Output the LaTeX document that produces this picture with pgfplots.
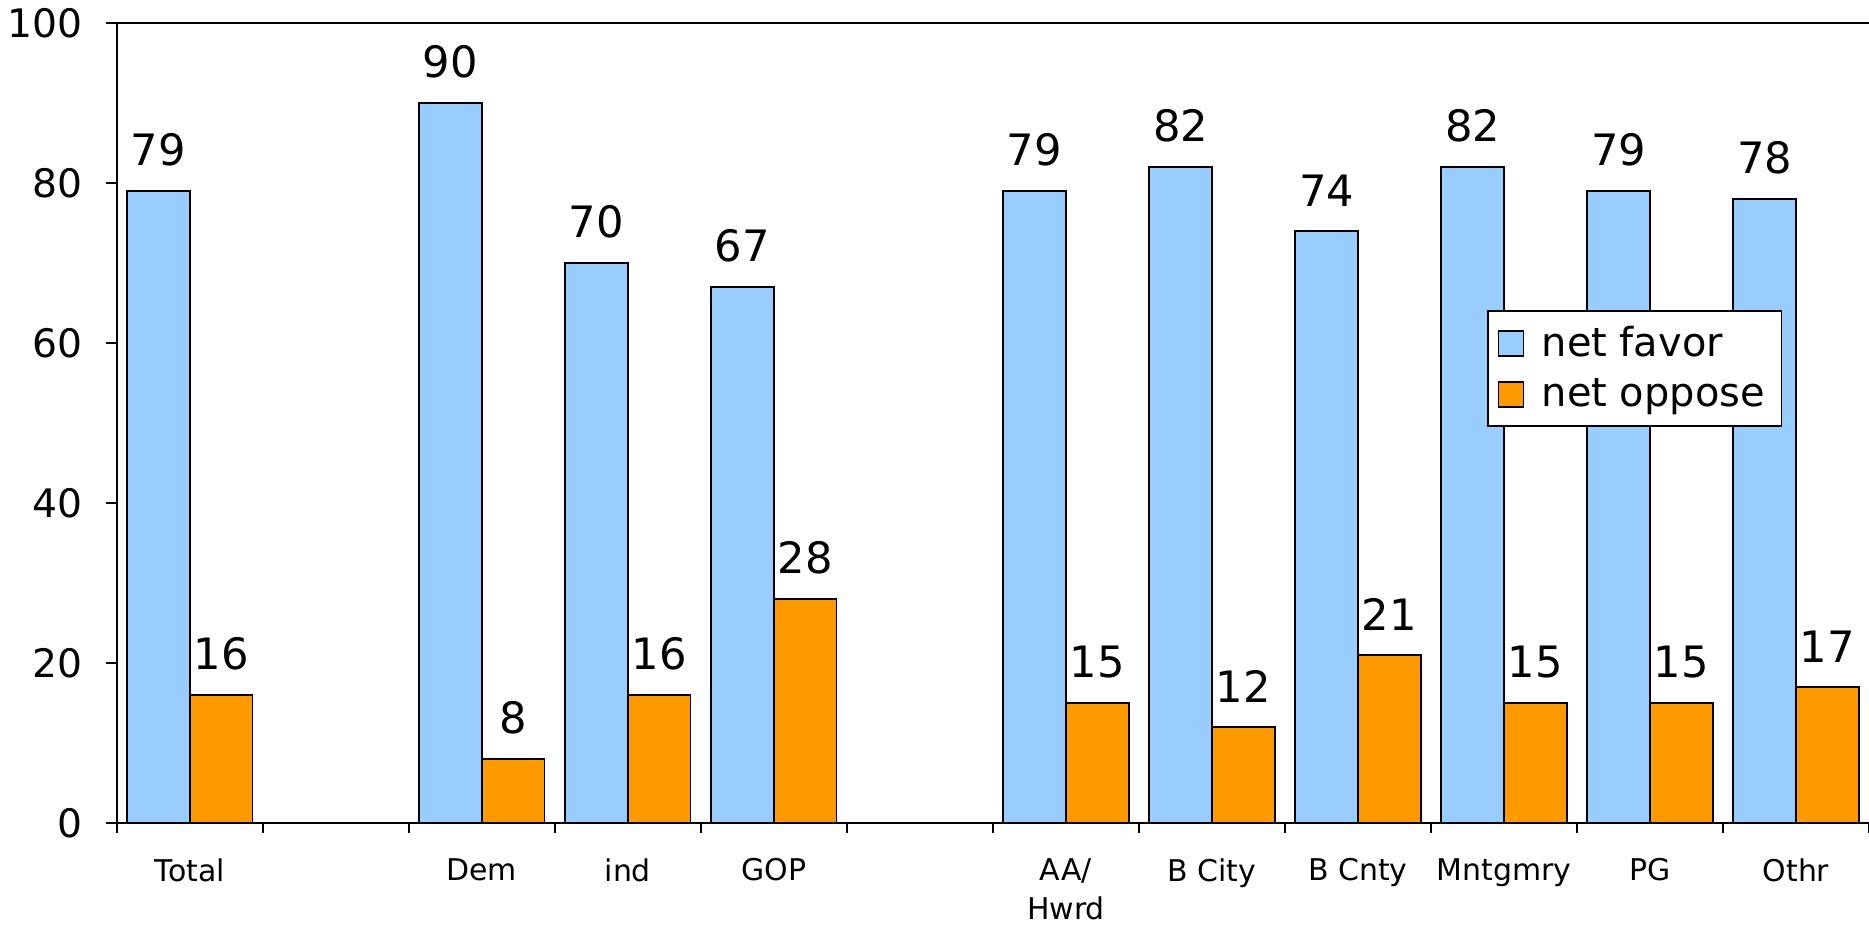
\documentclass[border=0pt]{standalone}
\usepackage{fontspec}
\setmainfont{DejaVu Sans}
\usepackage{pgfplots}
\usepackage{pgfplotstable}
\pgfplotsset{compat=1.18}
\definecolor{favblue}{HTML}{99CCFF}
\definecolor{opporange}{HTML}{FF9900}
\pgfplotstableread{
x fav opp
0 79 16
2 90 8
3 70 16
4 67 28
6 79 15
7 82 12
8 74 21
9 82 15
10 79 15
11 78 17
}\datatable
\pgfplotsset{sqlegend/.style={legend image code/.code={\draw[##1, draw=black, line width=0.5pt] (0pt,-3.75pt) rectangle (7.5pt,3.75pt); \path[draw=none, fill=none] (0pt,0pt) -- (11pt,0pt);}}}
\begin{document}
\begin{tikzpicture}
\begin{axis}[name=ax,
  scale only axis, width=526.8pt, height=240.6pt,
  xmin=-0.5, xmax=11.5, ymin=0, ymax=100,
  axis x line*=bottom, axis y line*=left,
  axis line style={black, line width=0.7pt},
  ybar, bar width=0.43,
  /pgf/number format/assume math mode=true,
  ytick={0,20,...,100},
  tick align=outside,
  major tick length=3.3pt,
  minor tick length=3pt,
  xtick={0,2,3,4,6,7,8,9,10,11},
  xticklabels={Total,Dem,ind,GOP,{AA/\\Hwrd},B City,B Cnty,Mntgmry,PG,Othr},
  minor xtick={-0.5,0.5,...,11.5},
  major x tick style={draw=none},
  minor x tick style={black, line width=0.5pt},
  y tick style={black, line width=0.5pt},
  xticklabel style={font=\fontsize{9}{11.7}\selectfont, align=center, yshift=-3.8pt},
  yticklabel style={font=\fontsize{11.8}{14}\selectfont, inner sep=0pt, xshift=-6.9pt},
  nodes near coords,
  every node near coord/.append style={font=\fontsize{13}{15}\selectfont, anchor=south, inner sep=0pt, yshift=7.2pt, black},
  legend style={at={(0.9505,0.641)}, anchor=north east, draw=black, line width=0.5pt,
    font=\fontsize{12}{14}\selectfont, cells={anchor=west}, row sep=1pt,
    inner xsep=3pt, inner ysep=2.5pt},
  clip=false,
]
\addplot[fill=favblue, draw=black, line width=0.5pt, bar shift=-0.215, sqlegend] table[x=x, y=fav] {\datatable};
\addlegendentry{net favor}
\addplot[fill=opporange, draw=black, line width=0.5pt, bar shift=0.215, sqlegend] table[x=x, y=opp] {\datatable};
\addlegendentry{net oppose}
\draw[black, line width=0.5pt] (rel axis cs:0,1) -- (rel axis cs:1,1);
\end{axis}
\pgfresetboundingbox
\path ([xshift=-35.1pt,yshift=-30.6pt]ax.south west) rectangle ([yshift=6.9pt]ax.north east);
\end{tikzpicture}
\end{document}
